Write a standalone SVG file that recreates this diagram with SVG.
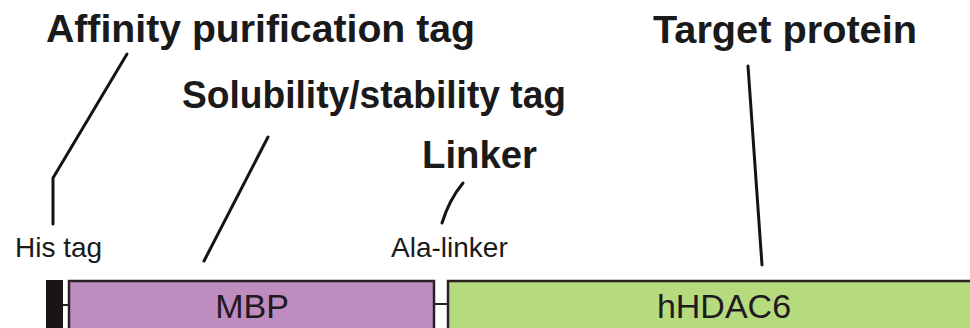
<svg xmlns="http://www.w3.org/2000/svg" width="970" height="328" viewBox="0 0 970 328">
<style>
.title{font-family:"Liberation Sans",Arial,sans-serif;font-weight:bold;font-size:39px;fill:#1a1a1a}
.lbl{font-family:"Liberation Sans",Arial,sans-serif;font-size:28px;fill:#1a1a1a}
.box{font-family:"Liberation Sans",Arial,sans-serif;font-size:34px;fill:#1f1a1f;text-anchor:middle}
.lead{fill:none;stroke:#141414;stroke-width:3;stroke-linecap:round;stroke-linejoin:round}
.conn{fill:none;stroke:#2a2222;stroke-width:2}
.dom{stroke:#2a2222;stroke-width:2.5}
</style>
<rect width="970" height="328" fill="#ffffff"/>
<g id="titles">
<text class="title" x="46" y="42" textLength="429" lengthAdjust="spacingAndGlyphs">Affinity purification tag</text>
<text class="title" x="653" y="43" textLength="264" lengthAdjust="spacingAndGlyphs">Target protein</text>
<text class="title" x="182" y="108" textLength="384" lengthAdjust="spacingAndGlyphs">Solubility/stability tag</text>
<text class="title" x="422" y="168" textLength="115" lengthAdjust="spacingAndGlyphs">Linker</text>
</g>
<g id="connectors">
<polyline class="lead" points="127,54 53,178 53,224"/>
<line class="lead" x1="268" y1="137" x2="204" y2="261"/>
<path class="lead" d="M463,183 Q449,200 442,223"/>
<line class="lead" x1="748" y1="66" x2="762" y2="265"/>
<line class="conn" x1="63" y1="305" x2="69" y2="305"/>
<line class="conn" x1="434" y1="304" x2="448" y2="304"/>
</g>
<g id="his-tag">
<rect x="46" y="280" width="17" height="60" fill="#1a1414"/>
<text class="lbl" x="15" y="257">His tag</text>
</g>
<g id="mbp">
<rect class="dom" x="69" y="281" width="365" height="60" fill="#be8cbe"/>
<text class="box" x="252" y="318">MBP</text>
</g>
<g id="ala-linker">
<text class="lbl" x="391" y="257">Ala-linker</text>
</g>
<g id="hhdac6">
<rect class="dom" x="448" y="281" width="540" height="60" fill="#b6da7e"/>
<text class="box" x="724" y="318">hHDAC6</text>
</g>
</svg>
